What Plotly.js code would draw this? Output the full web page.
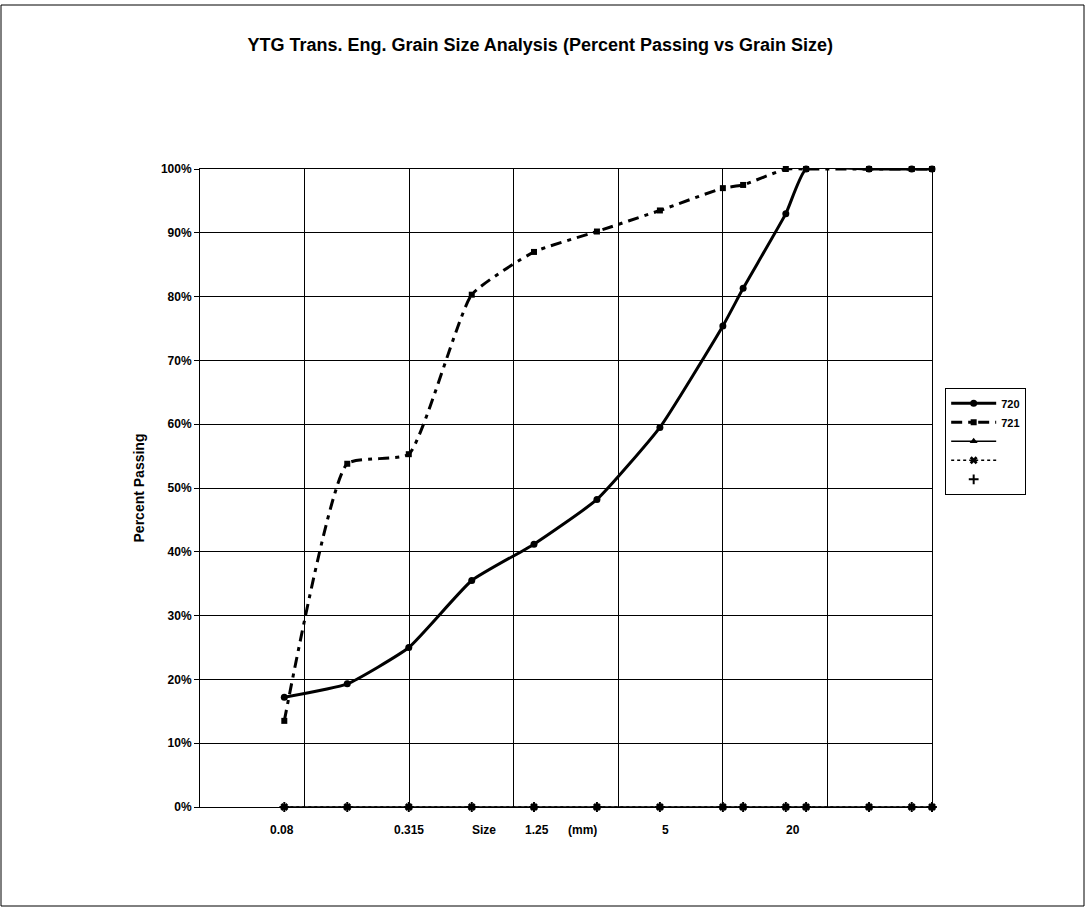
<!DOCTYPE html>
<html>
<head>
<meta charset="utf-8">
<script src="https://cdn.plot.ly/plotly-3.0.1.min.js"></script>
<style>
  html, body { margin: 0; padding: 0; background: #fff; }
  #chart { width: 1087px; height: 911px; }
</style>
</head>
<body>
<div id="chart"></div>
<script>
// Sieve sizes (mm)
const sizes = [0.08, 0.16, 0.315, 0.63, 1.25, 2.5, 5, 10, 12.5, 20, 25, 50, 80, 100];
// Percent passing
const s720 = [0.172, 0.193, 0.250, 0.355, 0.412, 0.482, 0.595, 0.754, 0.813, 0.930, 1.0, 1.0, 1.0, 1.0];
const s721 = [0.135, 0.538, 0.553, 0.803, 0.870, 0.902, 0.935, 0.970, 0.975, 1.0, 1.0, 1.0, 1.0, 1.0];
const s3 = [0, 0, 0, 0, 0, 0, 0, 0, 0, 0, 0, 0, 0, 0];
const s4 = [0, 0, 0, 0, 0, 0, 0, 0, 0, 0, 0, 0, 0, 0];
const s5 = [0, 0, 0, 0, 0, 0, 0, 0, 0, 0, 0, 0, 0, 0];
const seriesNames = ['720', '721', ' ', ' ', ' '];
// Labels shown under the axis
const xLabelVals = [0.08, 0.315, 1.25, 5, 20];
const xLabelText = ['0.08', '0.315', '1.25', '5', '20'];
// Grid positions (half decades)
const gridVals = [0.0316228, 0.1, 0.316228, 1, 3.16228, 10, 31.6228, 100];

const FONT = 'Liberation Sans, Arial, sans-serif';
const labelShift = [-2, 0, 3, 6, 7];

const traces = [
  {
    x: sizes, y: s720, name: seriesNames[0], type: 'scatter', mode: 'lines+markers',
    line: { color: '#000', width: 3, shape: 'spline', smoothing: 0.45 },
    marker: { symbol: 'circle', size: 7, color: '#000' }, cliponaxis: false
  },
  {
    x: sizes, y: s721, name: seriesNames[1], type: 'scatter', mode: 'lines+markers',
    line: { color: '#000', width: 3, shape: 'spline', smoothing: 0.45, dash: '11px,6px,4px,6px' },
    marker: { symbol: 'square', size: 6, color: '#000' }, cliponaxis: false
  },
  {
    x: sizes, y: s3, name: seriesNames[2], type: 'scatter', mode: 'lines+markers',
    line: { color: '#000', width: 1.5 },
    marker: { symbol: 'triangle-up', size: 7, color: '#000' }, cliponaxis: false
  },
  {
    x: sizes, y: s4, name: seriesNames[3], type: 'scatter', mode: 'lines+markers',
    line: { color: '#000', width: 1.5, dash: '3px,3px' },
    marker: { symbol: 'x', size: 7, color: '#000' }, cliponaxis: false
  },
  {
    x: sizes, y: s5, name: seriesNames[4], type: 'scatter', mode: 'markers',
    marker: { symbol: 'cross-thin', size: 7, color: '#000', line: { width: 2, color: '#000' } }, cliponaxis: false
  }
];

const labelFont = { family: FONT, size: 12, color: '#000', weight: 'bold' };
const annotations = xLabelVals.map((v, i) => ({
  x: Math.log10(v), y: -0.036, xref: 'x', yref: 'paper', xshift: labelShift[i],
  text: xLabelText[i], showarrow: false, xanchor: 'center', yanchor: 'middle',
  font: labelFont
}));
annotations.push({
  x: 0.388, y: -0.036, xref: 'paper', yref: 'paper', text: 'Size', showarrow: false,
  xanchor: 'center', yanchor: 'middle', font: labelFont
});
annotations.push({
  x: 0.522, y: -0.036, xref: 'paper', yref: 'paper', text: '(mm)', showarrow: false,
  xanchor: 'center', yanchor: 'middle', font: labelFont
});

const layout = {
  width: 1087, height: 911,
  margin: { l: 200, r: 155, t: 169, b: 104 },
  paper_bgcolor: '#fff', plot_bgcolor: '#fff',
  font: { family: FONT, color: '#000' },
  title: {
    text: 'YTG Trans. Eng. Grain Size Analysis (Percent Passing vs Grain Size)',
    x: 0.497, xref: 'container', xanchor: 'center',
    y: 1 - 45 / 911, yref: 'container', yanchor: 'middle',
    font: { family: FONT, size: 18, color: '#000', weight: 'bold' }
  },
  xaxis: {
    type: 'log', range: [-1.5, 2], tickmode: 'array', tickvals: gridVals,
    showticklabels: false, ticks: '', showgrid: true, gridcolor: '#000', gridwidth: 1,
    showline: true, linecolor: '#000', linewidth: 1, mirror: true, zeroline: false
  },
  yaxis: {
    range: [0, 1], dtick: 0.1, tick0: 0, tickformat: '.0%',
    ticks: 'outside', ticklen: 5, tickcolor: '#000', tickwidth: 1,
    showgrid: true, gridcolor: '#000', gridwidth: 1,
    showline: true, linecolor: '#000', linewidth: 1, mirror: true, zeroline: false,
    tickfont: { family: FONT, size: 12, color: '#000', weight: 'bold' },
    title: { text: 'Percent Passing', standoff: 12, font: { family: FONT, size: 14, color: '#000', weight: 'bold' } }
  },
  showlegend: true,
  legend: {
    x: 1.018, xanchor: 'left', y: 0.657, yanchor: 'top',
    bgcolor: '#fff', bordercolor: '#000', borderwidth: 1,
    font: { family: FONT, size: 11, color: '#000', weight: 'bold' },
    itemwidth: 45, tracegroupgap: 0
  },
  annotations: annotations,
  shapes: [{
    type: 'rect', xref: 'paper', yref: 'paper',
    x0: (1 - 200) / 732, x1: (1084 - 200) / 732,
    y0: (807 - 906) / 638, y1: (807 - 5) / 638,
    line: { color: '#000', width: 1 }, fillcolor: 'rgba(0,0,0,0)', layer: 'below'
  }]
};

Plotly.newPlot('chart', traces, layout, { displayModeBar: false, staticPlot: true });
</script>
</body>
</html>
